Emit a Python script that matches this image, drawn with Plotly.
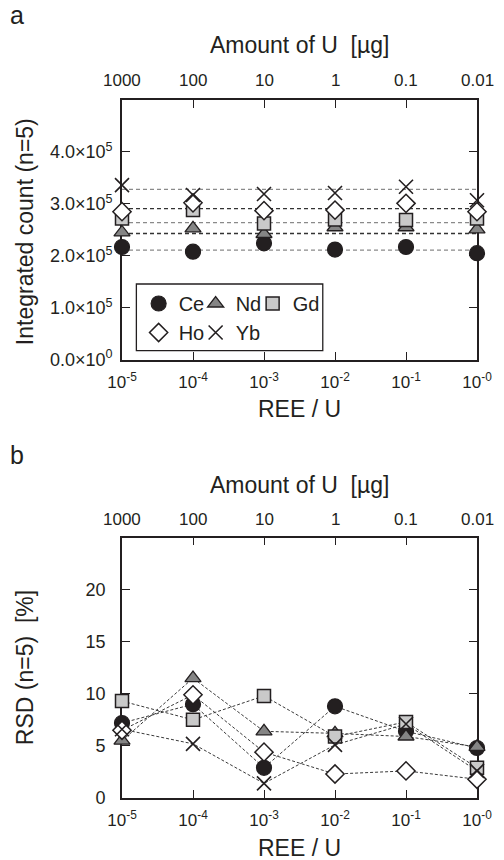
import plotly.graph_objects as go

# ---------------- data ----------------
ratio_exp = [-5, -4, -3, -2, -1, 0]
ratio_labels = ["10<sup>-5</sup>", "10<sup>-4</sup>", "10<sup>-3</sup>",
                "10<sup>-2</sup>", "10<sup>-1</sup>", "10<sup>-0</sup>"]
amount_labels = ["1000", "100", "10", "1", "0.1", "0.01"]
elements = ["Ce", "Nd", "Gd", "Ho", "Yb"]

# Integrated count (n=5)
count_ce = [2.17e5, 2.08e5, 2.24e5, 2.12e5, 2.17e5, 2.05e5]
count_nd = [2.45e5, 2.53e5, 2.42e5, 2.55e5, 2.55e5, 2.51e5]
count_gd = [2.72e5, 2.88e5, 2.62e5, 2.70e5, 2.69e5, 2.72e5]
count_ho = [2.85e5, 3.02e5, 2.87e5, 2.88e5, 3.01e5, 2.85e5]
count_yb = [3.36e5, 3.17e5, 3.19e5, 3.21e5, 3.33e5, 3.07e5]
count_mean = [2.11e5, 2.43e5, 2.64e5, 2.91e5, 3.28e5]  # Ce, Nd, Gd, Ho, Yb

# RSD (n=5) [%]
rsd_ce = [7.2, 9.0, 2.9, 8.8, 6.4, 4.8]
rsd_nd = [5.5, 11.5, 6.4, 6.2, 5.9, 4.9]
rsd_gd = [9.3, 7.5, 9.8, 5.9, 7.3, 2.9]
rsd_ho = [6.5, 9.9, 4.4, 2.3, 2.6, 1.8]
rsd_yb = [6.6, 5.2, 1.4, 5.1, 7.1, 2.6]

count_ticks = [0, 1e5, 2e5, 3e5, 4e5]
count_ticktext = ["0.0×10<sup>0</sup>", "1.0×10<sup>5</sup>", "2.0×10<sup>5</sup>",
                  "3.0×10<sup>5</sup>", "4.0×10<sup>5</sup>"]
rsd_ticks = [0, 5, 10, 15, 20]

counts = [count_ce, count_nd, count_gd, count_ho, count_yb]
rsds = [rsd_ce, rsd_nd, rsd_gd, rsd_ho, rsd_yb]

# ---------------- styles ----------------
DARK = "#231f20"
FONT = "Liberation Sans, Arial, Helvetica, sans-serif"
styles = {
    "Ce": dict(symbol="circle", size=15, color=DARK, line=dict(color=DARK, width=1.2)),
    "Nd": dict(symbol="triangle-up", size=14, color="#858585", line=dict(color=DARK, width=1.3)),
    "Gd": dict(symbol="square", size=13, color="#c9c9c9", line=dict(color=DARK, width=1.5)),
    "Ho": dict(symbol="diamond", size=14, color="white", line=dict(color=DARK, width=1.5)),
    "Yb": dict(symbol="x-thin", size=14, color=DARK, line=dict(color=DARK, width=1.6)),
}
mean_colors = ["#8a8a8a", "#333333", "#8a8a8a", "#333333", "#8a8a8a"]

fig = go.Figure()

# top panel: mean lines
for el, m, c in zip(elements, count_mean, mean_colors):
    fig.add_trace(go.Scatter(
        x=[ratio_exp[0], ratio_exp[-1]], y=[m, m], mode="lines",
        line=dict(color=c, width=1.3, dash="4px,3px"),
        showlegend=False, hoverinfo="skip", xaxis="x", yaxis="y", cliponaxis=False))

# top panel: markers
for i, (el, vals) in enumerate(zip(elements, counts)):
    last_in_row = i in (2, 4)
    fig.add_trace(go.Scatter(
        x=ratio_exp, y=vals, mode="markers", name=el,
        marker=styles[el], xaxis="x", yaxis="y", cliponaxis=False,
        legend="legend" if i < 3 else "legend2",
        legendwidth=40 if last_in_row else 12))

# bottom panel: dashed connecting lines
for el, vals in zip(elements, rsds):
    fig.add_trace(go.Scatter(
        x=ratio_exp, y=vals, mode="lines",
        line=dict(color="#3a3a3a", width=1, dash="3px,2px"),
        showlegend=False, hoverinfo="skip", xaxis="x2", yaxis="y2", cliponaxis=False))

# bottom panel: markers
for el, vals in zip(elements, rsds):
    fig.add_trace(go.Scatter(
        x=ratio_exp, y=vals, mode="markers", name=el,
        marker=styles[el], showlegend=False, xaxis="x2", yaxis="y2", cliponaxis=False))

L, R, T, B = 122, 19, 100, 62
W, H = 504, 860
PW, PH = W - L - R, H - T - B


def px(x):
    return (x - L) / PW


def py(y):
    return (H - B - y) / PH


axis_common = dict(showline=True, linewidth=1.6, linecolor=DARK, ticks="inside",
                   ticklen=8, tickwidth=1.4, tickcolor=DARK, showgrid=False,
                   zeroline=False, tickfont=dict(size=17, color=DARK, family=FONT),
                   layer="below traces", fixedrange=True, mirror="ticks")
yfont = dict(size=18, color=DARK, family=FONT)

top_dom = [py(359.7), 1.0]
bot_dom = [0.0, py(537.5)]

fig.update_layout(
    width=W, height=H, margin=dict(l=L, r=R, t=T, b=B),
    paper_bgcolor="white", plot_bgcolor="white",
    font=dict(family=FONT, color=DARK),
    xaxis=dict(axis_common, domain=[0, 1], anchor="y", range=[-5, 0],
               tickvals=ratio_exp, ticktext=ratio_labels, ticklabelstandoff=6),
    yaxis=dict(axis_common, domain=top_dom, anchor="x", range=[0, 5e5],
               tickvals=count_ticks, ticktext=count_ticktext,
               ticklabelstandoff=4, tickfont=yfont),
    xaxis2=dict(axis_common, domain=[0, 1], anchor="y2", range=[-5, 0],
                tickvals=ratio_exp, ticktext=ratio_labels, ticklabelstandoff=6),
    yaxis2=dict(axis_common, domain=bot_dom, anchor="x2", range=[0, 25],
                tickvals=rsd_ticks, ticklabelstandoff=11, tickfont=yfont),
    legend=dict(x=px(139), y=py(303.5), xanchor="left", yanchor="middle",
                orientation="h", font=dict(size=20, color=DARK, family=FONT),
                bgcolor="rgba(0,0,0,0)", borderwidth=0, itemclick=False, itemdoubleclick=False),
    legend2=dict(x=px(139), y=py(332.5), xanchor="left", yanchor="middle",
                 orientation="h", font=dict(size=20, color=DARK, family=FONT),
                 bgcolor="rgba(0,0,0,0)", borderwidth=0, itemclick=False, itemdoubleclick=False),
    shapes=[dict(type="rect", xref="paper", yref="paper",
                 x0=px(136.7), x1=px(327.3), y0=py(350.7), y1=py(284),
                 line=dict(color=DARK, width=1.3), fillcolor="rgba(0,0,0,0)")],
    showlegend=True,
)

ann_font_title = dict(size=23, color=DARK, family=FONT)
tick_font = dict(size=17, color=DARK, family=FONT)
annotations = [
    dict(text="a", x=px(15), y=py(15), font=dict(size=25, color=DARK, family=FONT)),
    dict(text="b", x=px(15), y=py(455), font=dict(size=25, color=DARK, family=FONT)),
    dict(text="Amount of U\u00a0 [µg]", x=0.5, y=py(45), font=ann_font_title),
    dict(text="Amount of U\u00a0 [µg]", x=0.5, y=py(485), font=ann_font_title),
    dict(text="REE / U", x=0.5, y=py(409), font=ann_font_title),
    dict(text="REE / U", x=0.5, y=py(848), font=ann_font_title),
    dict(text="Integrated count (n=5)", x=px(23), y=py(232), textangle=-90, font=ann_font_title),
    dict(text="RSD (n=5)\u00a0 [%]", x=px(23), y=py(668), textangle=-90, font=ann_font_title),
]
for a in annotations:
    a.update(xref="paper", yref="paper", showarrow=False, xanchor="center", yanchor="middle")

# top "Amount of U" tick labels, placed on the data x scale of each panel
for xr, ylab in (("x", py(81)), ("x2", py(519))):
    for xv, lab in zip(ratio_exp, amount_labels):
        annotations.append(dict(text=lab, x=xv, xref=xr, y=ylab, yref="paper",
                                showarrow=False, xanchor="center", yanchor="middle",
                                font=tick_font))
fig.update_layout(annotations=annotations)

fig.write_html("out.html")
